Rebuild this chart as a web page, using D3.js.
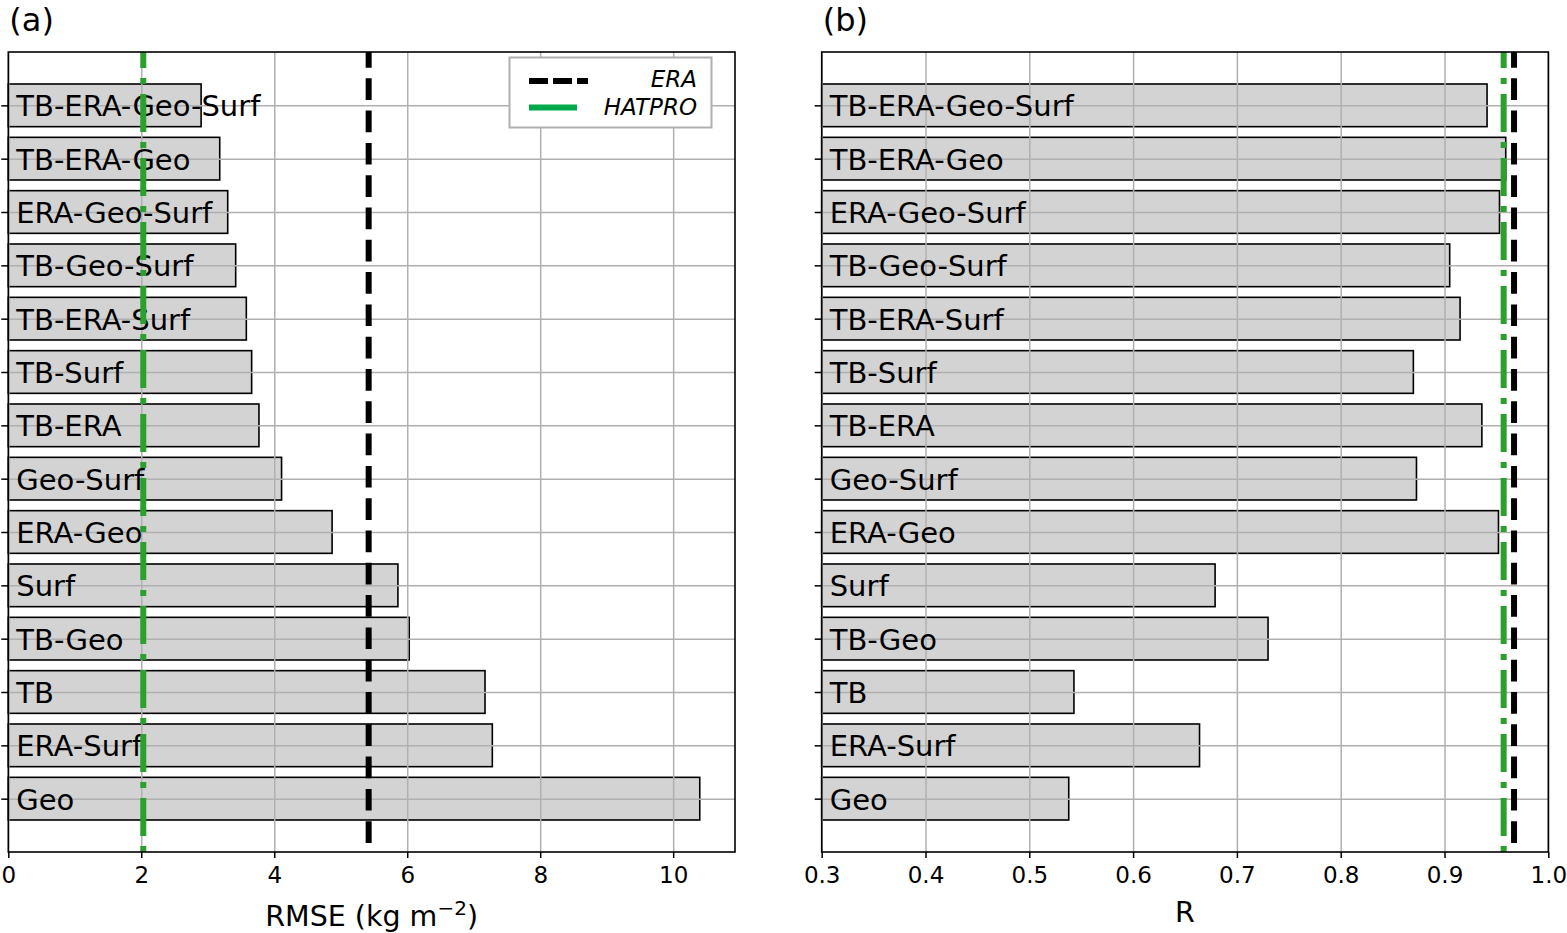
<!DOCTYPE html>
<html>
<head>
<meta charset="utf-8">
<script src="https://cdn.jsdelivr.net/npm/d3@7"></script>
<style>
  body { margin: 0; background: #fff; }
  text { font-family: "DejaVu Sans", sans-serif; }
</style>
</head>
<body>
<div id="chart"></div>
<script>
// categories from bottom to top
var categories = ["Geo", "ERA-Surf", "TB", "TB-Geo", "Surf", "ERA-Geo", "Geo-Surf",
    "TB-ERA", "TB-Surf", "TB-ERA-Surf", "TB-Geo-Surf", "ERA-Geo-Surf", "TB-ERA-Geo", "TB-ERA-Geo-Surf"];
var rmseValues = [10.40, 7.28, 7.17, 6.03, 5.86, 4.87, 4.11, 3.77, 3.66, 3.58, 3.42, 3.30, 3.18, 2.90];
var rValues = [0.538, 0.664, 0.543, 0.730, 0.679, 0.952, 0.873, 0.936, 0.870, 0.915, 0.905, 0.953, 0.959, 0.941];
var rmseTicks = [0, 2, 4, 6, 8, 10];
var rTicks = [0.3, 0.4, 0.5, 0.6, 0.7, 0.8, 0.9, 1.0];
var eraRef = { rmse: 5.42, r: 0.967 };
var hatproRef = { rmse: 2.03, r: 0.957 };

var svgWidth = 1567;
var svgHeight = 933;
var plotTop = 52, plotBottom = 852;

var svg = d3.select("#chart")
    .append("svg")
    .attr("width", svgWidth)
    .attr("height", svgHeight);

var yScale = d3.scaleLinear()
    .domain([-1, 14])
    .range([plotBottom, plotTop]);
var barH = yScale(0) - yScale(0.8);

function drawPanel(left, right, domain, values, ticks, fmt, refs, panelLabel) {
    var width = right - left;
    var x = d3.scaleLinear().domain(domain).range([left, right]);
    var g = svg.append("g");

    // bars
    g.selectAll("rect.bar")
        .data(values)
        .enter()
        .append("rect")
        .attr("class", "bar")
        .attr("x", x(domain[0]))
        .attr("y", (d, i) => yScale(i + 0.4))
        .attr("width", d => x(d) - x(domain[0]))
        .attr("height", barH)
        .attr("fill", "#d3d3d3")
        .attr("stroke", "#000")
        .attr("stroke-width", 1.6);

    // grid
    var gridX = d3.axisBottom(x).tickValues(ticks).tickSize(-(plotBottom - plotTop)).tickFormat("");
    var gx = g.append("g").attr("transform", `translate(0, ${plotBottom})`).call(gridX);
    gx.select(".domain").remove();
    gx.selectAll("line").attr("stroke", "#b0b0b0").attr("stroke-width", 1.5);
    var gridY = d3.axisLeft(yScale).tickValues(d3.range(categories.length)).tickSize(-width).tickFormat("");
    var gy = g.append("g").attr("transform", `translate(${left}, 0)`).call(gridY);
    gy.select(".domain").remove();
    gy.selectAll("line").attr("stroke", "#b0b0b0").attr("stroke-width", 1.5);

    // category names
    g.selectAll("text.cat")
        .data(categories)
        .enter()
        .append("text")
        .attr("class", "cat")
        .attr("x", left + 8)
        .attr("y", (d, i) => yScale(i) + 11)
        .attr("font-size", "29px")
        .attr("fill", "#000")
        .text(d => d);

    // reference lines
    g.append("line")
        .attr("x1", x(refs[1])).attr("x2", x(refs[1]))
        .attr("y1", plotTop).attr("y2", plotBottom)
        .attr("stroke", "#2ca02c").attr("stroke-width", 6)
        .attr("stroke-dasharray", "38,10,6,10").attr("stroke-dashoffset", 22);
    g.append("line")
        .attr("x1", x(refs[0])).attr("x2", x(refs[0]))
        .attr("y1", plotTop).attr("y2", plotBottom)
        .attr("stroke", "#000").attr("stroke-width", 6)
        .attr("stroke-dasharray", "21.7,10.6").attr("stroke-dashoffset", 6);

    // axes
    var xAxis = d3.axisBottom(x).tickValues(ticks).tickSize(6).tickPadding(9).tickFormat(fmt);
    var ax = g.append("g").attr("transform", `translate(0, ${plotBottom})`).call(xAxis);
    ax.attr("font-size", null).attr("font-family", null);
    ax.select(".domain").remove();
    ax.selectAll("line").attr("stroke", "#000").attr("stroke-width", 1.5);
    ax.selectAll("text").attr("font-size", "23px").attr("fill", "#000");

    var yAxis = d3.axisLeft(yScale).tickValues(d3.range(categories.length)).tickSize(7).tickFormat("");
    var ay = g.append("g").attr("transform", `translate(${left}, 0)`).call(yAxis);
    ay.select(".domain").remove();
    ay.selectAll("line").attr("stroke", "#000").attr("stroke-width", 1.5);

    // frame
    g.append("rect")
        .attr("x", left).attr("y", plotTop)
        .attr("width", width).attr("height", plotBottom - plotTop)
        .attr("fill", "none").attr("stroke", "#000").attr("stroke-width", 1.6);

    // panel label
    g.append("text")
        .attr("x", left + 1).attr("y", 31)
        .attr("font-family", "Liberation Sans")
        .attr("font-size", "32px")
        .text(panelLabel);

    return x;
}

drawPanel(8.3, 735, [0, 10.93], rmseValues, rmseTicks, d3.format("d"),
    [eraRef.rmse, hatproRef.rmse], "(a)");
drawPanel(821.7, 1548.3, [0.3, 1.0], rValues, rTicks, d3.format(".1f"),
    [eraRef.r, hatproRef.r], "(b)");

// x labels
var lab = svg.append("text")
    .attr("x", (8.3 + 735) / 2).attr("y", 926)
    .attr("text-anchor", "middle")
    .attr("font-size", "28.5px");
lab.append("tspan").text("RMSE (kg m");
lab.append("tspan").attr("font-size", "20px").attr("dy", -11).text("\u22122");
lab.append("tspan").attr("dy", 11).text(")");

svg.append("text")
    .attr("x", (821.7 + 1548.3) / 2).attr("y", 922)
    .attr("text-anchor", "middle")
    .attr("font-size", "28.5px")
    .text("R");

// legend
var legend = svg.append("g");
legend.append("rect")
    .attr("x", 509.5).attr("y", 57.5)
    .attr("width", 202).attr("height", 70)
    .attr("fill", "#fff").attr("stroke", "#b0b0b0").attr("stroke-width", 2);
legend.append("line")
    .attr("x1", 529).attr("x2", 588).attr("y1", 81).attr("y2", 81)
    .attr("stroke", "#000").attr("stroke-width", 6).attr("stroke-dasharray", "19,5");
legend.append("line")
    .attr("x1", 529).attr("x2", 577).attr("y1", 107.5).attr("y2", 107.5)
    .attr("stroke", "#00aa4a").attr("stroke-width", 6);
legend.append("text")
    .attr("x", 697).attr("y", 87).attr("text-anchor", "end")
    .attr("font-family", "Liberation Sans").attr("font-style", "italic").attr("font-size", "23px")
    .text("ERA");
legend.append("text")
    .attr("x", 697).attr("y", 115).attr("text-anchor", "end")
    .attr("font-family", "Liberation Sans").attr("font-style", "italic").attr("font-size", "23px")
    .text("HATPRO");
</script>
</body>
</html>
